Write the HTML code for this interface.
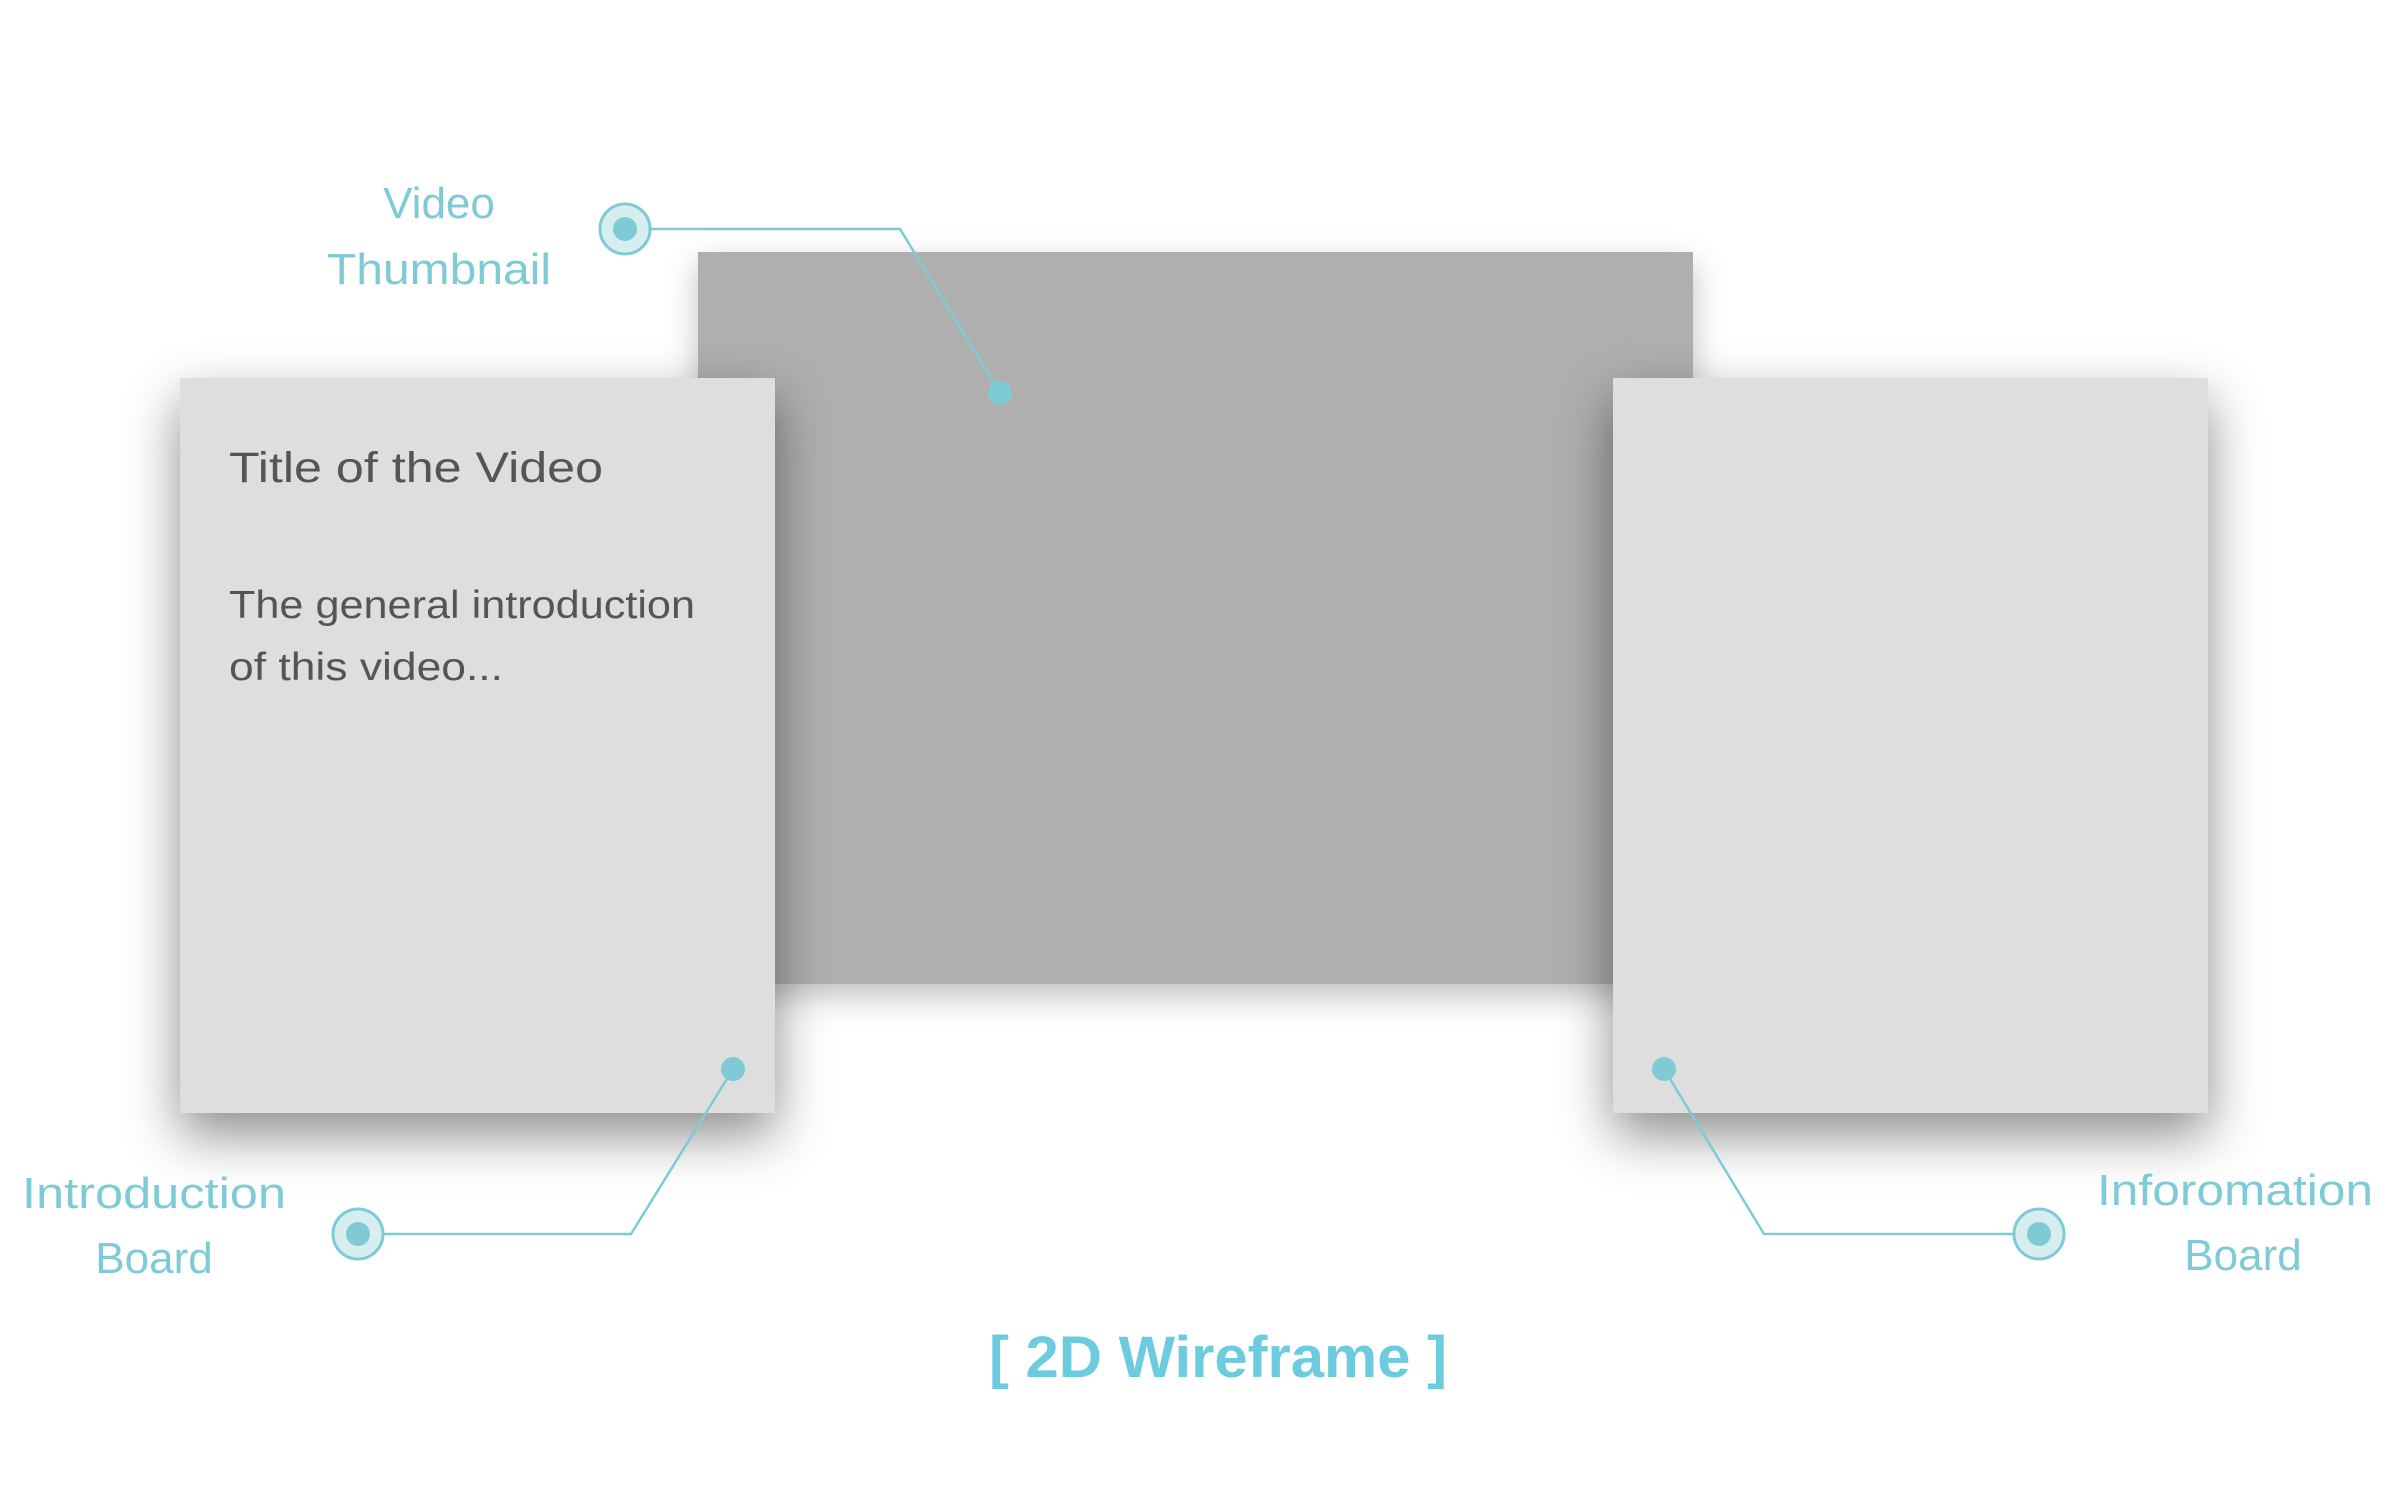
<!DOCTYPE html>
<html><head><meta charset="utf-8"><style>
html,body{margin:0;padding:0;background:#fff;}
#c{position:relative;width:2391px;height:1488px;overflow:hidden;background:#fff;font-family:"Liberation Sans",sans-serif;}
.r{position:absolute;}
#g{left:698px;top:252px;width:995px;height:732px;background:#afafaf;box-shadow:0 12px 30px rgba(0,0,0,.25);}
#l{left:180px;top:378px;width:595px;height:735px;background:#dedede;box-shadow:0 22px 50px rgba(0,0,0,.45);}
#rp{left:1613px;top:378px;width:595px;height:735px;background:#dedede;box-shadow:0 22px 50px rgba(0,0,0,.45);}
svg{position:absolute;left:0;top:0;}
</style></head><body><div id="c">
<div class="r" id="g"></div>
<div class="r" id="l"></div>
<div class="r" id="rp"></div>
<svg width="2391" height="1488" viewBox="0 0 2391 1488">
<g font-family="Liberation Sans, sans-serif">
<text x="229" y="482" font-size="43" fill="#555" textLength="374" lengthAdjust="spacingAndGlyphs">Title of the Video</text>
<text x="229" y="618" font-size="39" fill="#555" textLength="466" lengthAdjust="spacingAndGlyphs">The general introduction</text>
<text x="229" y="680" font-size="39" fill="#555" textLength="274" lengthAdjust="spacingAndGlyphs">of this video...</text>
<g fill="#7ecbd5" font-size="44" text-anchor="middle">
<text x="439" y="218">Video</text>
<text x="439" y="284" textLength="224" lengthAdjust="spacingAndGlyphs">Thumbnail</text>
<text x="154" y="1208" textLength="264" lengthAdjust="spacingAndGlyphs">Introduction</text>
<text x="154" y="1273">Board</text>
<text x="2235" y="1205" textLength="276" lengthAdjust="spacingAndGlyphs">Inforomation</text>
<text x="2243" y="1270">Board</text>
</g>
<text x="1218" y="1377" font-size="58" font-weight="bold" fill="#6ccbdf" text-anchor="middle" textLength="458" lengthAdjust="spacingAndGlyphs">[ 2D Wireframe ]</text>
</g>
<g fill="none" stroke="#7ecbd5" stroke-width="2.5">
<polyline points="625,229 900,229 1000,393"/>
<polyline points="358,1234 631,1234 733,1069"/>
<polyline points="2039,1234 1764,1234 1664,1069"/>
</g>
<g fill="#d7eef1" stroke="#7ecbd5" stroke-width="3">
<circle cx="625" cy="229" r="25"/>
<circle cx="358" cy="1234" r="25"/>
<circle cx="2039" cy="1234" r="25"/>
</g>
<g fill="#7ecbd5">
<circle cx="625" cy="229" r="12"/>
<circle cx="358" cy="1234" r="12"/>
<circle cx="2039" cy="1234" r="12"/>
<circle cx="1000" cy="393" r="12"/>
<circle cx="733" cy="1069" r="12"/>
<circle cx="1664" cy="1069" r="12"/>
</g>
</svg>
</div></body></html>
